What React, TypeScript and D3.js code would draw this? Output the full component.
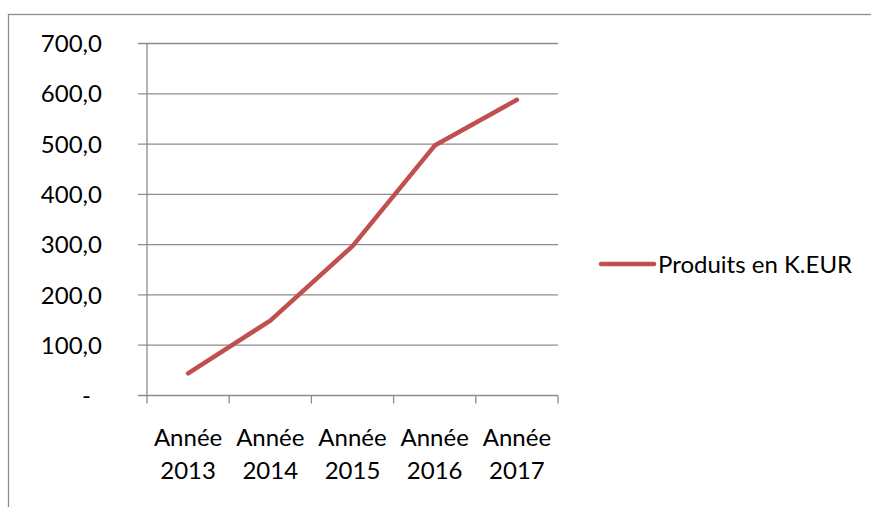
import React, { useEffect, useRef } from "react";
import * as d3 from "d3";

const years = ["Année 2013", "Année 2014", "Année 2015", "Année 2016", "Année 2017"];
const produits = [44, 149, 297, 497, 588];
const yTicks = [0, 100, 200, 300, 400, 500, 600, 700];
const seriesName = "Produits en K.EUR";

const W = 871,
  H = 507;
const FONT = "Lato, 'Open Sans', sans-serif";

export default function App() {
  const ref = useRef<SVGSVGElement>(null);

  useEffect(() => {
    const svg = d3.select(ref.current);
    svg.selectAll("*").remove();

    svg.append("rect").attr("width", W).attr("height", H).attr("fill", "#fff");

    // outer chart border (runs past the viewport on right and bottom)
    svg
      .append("rect")
      .attr("x", 8.5)
      .attr("y", 14.5)
      .attr("width", 900)
      .attr("height", 600)
      .attr("fill", "none")
      .attr("stroke", "#8c8c8c")
      .attr("stroke-width", 1.3);

    const x = d3.scaleBand().domain(years).range([147, 558]);
    const y = d3.scaleLinear().domain([0, 700]).range([395.5, 43.5]);

    const grid = "#8c8c8c";
    const fmt = (v: number) => (v === 0 ? "-" : d3.format(".1f")(v).replace(".", ","));

    // gridlines + y tick marks
    svg
      .append("g")
      .selectAll("line")
      .data(yTicks)
      .enter()
      .append("line")
      .attr("x1", 138)
      .attr("x2", 558)
      .attr("y1", (d) => y(d))
      .attr("y2", (d) => y(d))
      .attr("stroke", grid)
      .attr("stroke-width", 1.3);

    // y axis line
    svg
      .append("line")
      .attr("x1", 147)
      .attr("x2", 147)
      .attr("y1", y(700))
      .attr("y2", y(0))
      .attr("stroke", grid)
      .attr("stroke-width", 1.3);

    // x tick marks on category boundaries
    const bounds = years.map((d) => x(d)!).concat([x.range()[1]]);
    svg
      .append("g")
      .selectAll("line")
      .data(bounds)
      .enter()
      .append("line")
      .attr("x1", (d) => d)
      .attr("x2", (d) => d)
      .attr("y1", y(0))
      .attr("y2", y(0) + 8)
      .attr("stroke", grid)
      .attr("stroke-width", 1.3);

    // y labels
    svg
      .append("g")
      .selectAll("text")
      .data(yTicks)
      .enter()
      .append("text")
      .attr("x", (d) => (d === 0 ? 91 : 102))
      .attr("y", (d) => y(d))
      .attr("dy", "0.36em")
      .attr("text-anchor", "end")
      .style("font-family", FONT)
      .style("font-size", "24px")
      .attr("fill", "#000")
      .text((d) => fmt(d));

    // x labels, two lines
    const xl = svg
      .append("g")
      .selectAll("text")
      .data(years)
      .enter()
      .append("text")
      .attr("text-anchor", "middle")
      .style("font-family", FONT)
      .style("font-size", "24px")
      .attr("fill", "#000");
    xl.append("tspan")
      .attr("x", (d) => x(d)! + x.bandwidth() / 2)
      .attr("y", 446)
      .text((d) => d.split(" ")[0]);
    xl.append("tspan")
      .attr("x", (d) => x(d)! + x.bandwidth() / 2)
      .attr("y", 479)
      .text((d) => d.split(" ")[1]);

    // series line
    const line = d3
      .line<number>()
      .x((_, i) => x(years[i])! + x.bandwidth() / 2)
      .y((d) => y(d));
    svg
      .append("path")
      .datum(produits)
      .attr("d", line)
      .attr("fill", "none")
      .attr("stroke", "#c0504d")
      .attr("stroke-width", 4.5)
      .attr("stroke-linecap", "round")
      .attr("stroke-linejoin", "round");

    // legend
    svg
      .append("line")
      .attr("x1", 601)
      .attr("x2", 654)
      .attr("y1", 264)
      .attr("y2", 264)
      .attr("stroke", "#c0504d")
      .attr("stroke-width", 4.5)
      .attr("stroke-linecap", "round");
    svg
      .append("text")
      .attr("x", 658)
      .attr("y", 264)
      .attr("dy", "0.36em")
      .style("font-family", FONT)
      .style("font-size", "24px")
      .attr("fill", "#000")
      .text(seriesName);
  }, []);

  return (
    <svg
      ref={ref}
      width={W}
      height={H}
      style={{ position: "absolute", left: 0, top: 0, display: "block" }}
    ></svg>
  );
}
